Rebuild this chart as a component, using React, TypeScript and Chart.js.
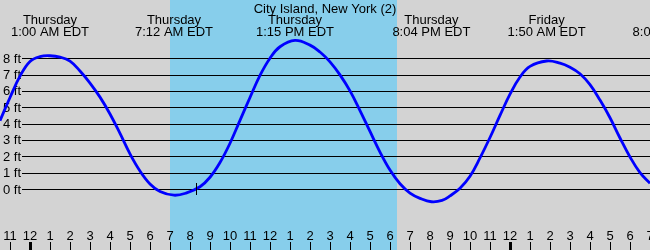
import React, { useEffect, useRef } from "react";
import { Chart, registerables } from "chart.js";

Chart.register(...registerables);

// Tide readings (hours since Thursday 00:00 EDT, feet)
const hours = [
  -1.5, -1, -0.5, 0, 0.5, 1, 1.5, 2, 2.5, 3, 3.5, 4, 4.5, 5, 5.5, 6, 6.5, 7.2,
  7.8, 8.5, 9, 9.5, 10, 10.5, 11, 11.5, 12, 12.5, 13.25, 14, 14.5,
  15, 15.5, 16, 16.5, 17, 17.5, 18, 18.5, 19, 19.5, 20.07, 20.6, 21, 21.5, 22,
  22.5, 23, 23.5, 24, 24.5, 25, 25.83, 26.5, 27, 27.5, 28, 28.5, 29,
  29.5, 30, 30.5, 31,
];
const heights = [
  4.18, 5.6, 6.9, 7.8, 8.1, 8.15, 8.07, 7.82, 7.22, 6.48, 5.62, 4.59, 3.4,
  2.15, 1.1, 0.31, -0.15, -0.38, -0.25, 0.14, 0.72, 1.62, 2.8, 4.2,
  5.6, 6.95, 8.0, 8.7, 9.09, 8.8, 8.38, 7.78, 6.98, 6.0, 4.8,
  3.52, 2.26, 1.16, 0.32, -0.25, -0.57, -0.78, -0.7, -0.42, 0.05, 0.78, 1.9,
  3.15, 4.5, 5.8, 6.85, 7.5, 7.83, 7.7, 7.45, 7.05, 6.38, 5.44,
  4.36, 3.12, 1.96, 1.0, 0.35,
];

// High / low tide events shown on top
const eventHours = [1, 7.2, 13.25, 20.07, 25.83, 32.08];
const eventDays = ["Thursday", "Thursday", "Thursday", "Thursday", "Friday", "Friday"];
const eventTimes = ["1:00 AM EDT", "7:12 AM EDT", "1:15 PM EDT", "8:04 PM EDT", "1:50 AM EDT", "8:05 AM EDT"];

// Daylight
const sunrise = 7.0;
const sunset = 18.35;

// Current time marker
const nowHour = 8.28;
const nowHeight = 0;

// Hour ticks
const tickHours = [-1, 0, 1, 2, 3, 4, 5, 6, 7, 8, 9, 10, 11, 12, 13, 14, 15, 16, 17, 18, 19, 20, 21, 22, 23, 24, 25, 26, 27, 28, 29, 30, 31];
const tickLabels = ["11", "12", "1", "2", "3", "4", "5", "6", "7", "8", "9", "10", "11", "12", "1", "2", "3", "4", "5", "6", "7", "8", "9", "10", "11", "12", "1", "2", "3", "4", "5", "6", "7"];
const midnightHours = [0, 24];

// Height grid
const feetLevels = [0, 1, 2, 3, 4, 5, 6, 7, 8];
const feetLabels = ["0 ft", "1 ft", "2 ft", "3 ft", "4 ft", "5 ft", "6 ft", "7 ft", "8 ft"];

const title = "City Island, New York (2)";
const FONT = '13px "Liberation Sans", Arial, sans-serif';

const tidePlugin = {
  id: "tideDecor",
  beforeDatasetsDraw(chart: any) {
    const ctx = chart.ctx;
    const x = chart.scales.x;
    const y = chart.scales.y;
    const W = chart.width;
    const H = chart.height;
    ctx.save();
    ctx.fillStyle = "#d3d3d3";
    ctx.fillRect(0, 0, W, H);
    const xs = Math.round(x.getPixelForValue(sunrise));
    const xe = Math.round(x.getPixelForValue(sunset));
    ctx.fillStyle = "#87ceeb";
    ctx.fillRect(xs, 0, xe - xs, H);

    // grid lines
    ctx.strokeStyle = "#000";
    ctx.lineWidth = 1;
    feetLevels.forEach((f) => {
      const py = Math.round(y.getPixelForValue(f)) + 0.5;
      ctx.beginPath();
      ctx.moveTo(22, py);
      ctx.lineTo(W, py);
      ctx.stroke();
    });

    ctx.font = FONT;
    ctx.fillStyle = "#000";
    // ft labels
    ctx.textAlign = "left";
    ctx.textBaseline = "alphabetic";
    feetLevels.forEach((f, i) => {
      const py = y.getPixelForValue(f);
      ctx.fillText(feetLabels[i], 3, py + 4.5);
    });

    // title
    ctx.textAlign = "center";
    ctx.fillText(title, W / 2, 12.5);

    // event labels
    eventHours.forEach((h, i) => {
      const px = x.getPixelForValue(h);
      ctx.fillText(eventDays[i], px, 24);
      ctx.fillText(eventTimes[i], px, 36);
    });

    // hour ticks
    tickHours.forEach((h, i) => {
      const px = Math.round(x.getPixelForValue(h));
      ctx.fillText(tickLabels[i], px, 239.5);
      const wide = midnightHours.includes(h);
      ctx.fillRect(wide ? px - 1 : px, 242, wide ? 3 : 1, 8);
    });
    ctx.restore();
  },
  afterDatasetsDraw(chart: any) {
    const ctx = chart.ctx;
    const x = chart.scales.x;
    const y = chart.scales.y;
    const px = Math.round(x.getPixelForValue(nowHour)) + 0.5;
    const py = y.getPixelForValue(nowHeight);
    ctx.save();
    ctx.strokeStyle = "#000";
    ctx.lineWidth = 1;
    ctx.beginPath();
    ctx.moveTo(px, py - 6);
    ctx.lineTo(px, py + 6);
    ctx.stroke();
    ctx.restore();
  },
};

export default function App() {
  const ref = useRef<HTMLCanvasElement | null>(null);
  useEffect(() => {
    if (!ref.current) return;
    const chart = new Chart(ref.current, {
      type: "line",
      data: {
        datasets: [
          {
            data: hours.map((h, i) => ({ x: h, y: heights[i] })),
            borderColor: "#0000ff",
            borderWidth: 2.8,
            pointRadius: 0,
            fill: false,
            tension: 0.4,
          },
        ],
      },
      options: {
        responsive: false,
        maintainAspectRatio: false,
        animation: false,
        layout: { padding: 0 },
        plugins: { legend: { display: false }, tooltip: { enabled: false }, title: { display: false } },
        scales: {
          x: { type: "linear", min: -1.5, max: 31, display: false },
          y: { type: "linear", min: -3.73, max: 11.56, display: false },
        },
      },
      plugins: [tidePlugin],
    } as any);
    return () => chart.destroy();
  }, []);
  return (
    <div style={{ position: "fixed", left: 0, top: 0, width: 650, height: 250 }}>
      <canvas ref={ref} width={650} height={250} style={{ display: "block", width: 650, height: 250 }} />
    </div>
  );
}
